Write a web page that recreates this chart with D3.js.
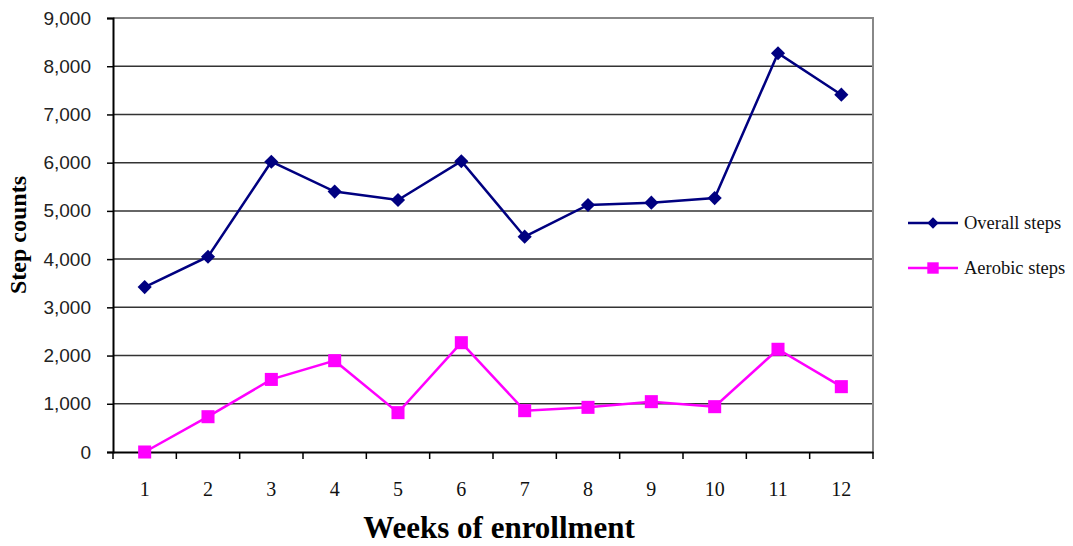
<!DOCTYPE html>
<html>
<head>
<meta charset="utf-8">
<script src="https://cdn.jsdelivr.net/npm/d3@7"></script>
<style>
  html, body { margin: 0; padding: 0; background: #fff; }
  svg { display: block; }
</style>
</head>
<body>
<svg id="chart" width="1073" height="546"></svg>
<script>
const weeks = ["1","2","3","4","5","6","7","8","9","10","11","12"];
const overallSteps = [3420, 4050, 6020, 5400, 5226, 6030, 4465, 5122, 5170, 5265, 8270, 7410];
const aerobicSteps = [0, 732, 1505, 1894, 816, 2267, 857, 926, 1044, 940, 2130, 1355];
const yTicks = [0, 1000, 2000, 3000, 4000, 5000, 6000, 7000, 8000, 9000];
const seriesNames = ["Overall steps", "Aerobic steps"];
const seriesColors = ["#000080", "#FF00FF"];

const svg = d3.select("#chart");
const L = 113, R = 873, T = 18, B = 452;

const x = d3.scaleBand().domain(weeks).range([L, R]);
const y = d3.scaleLinear().domain([0, 9000]).range([B, T]);

// gridlines
svg.append("g").selectAll("line").data(yTicks.filter(d => d > 0 && d < 9000)).join("line")
  .attr("x1", L).attr("x2", R)
  .attr("y1", d => y(d)).attr("y2", d => y(d))
  .attr("stroke", "#333").attr("stroke-width", 1.5);

// plot border (top & right gray)
svg.append("path")
  .attr("d", `M${L},${T}H${R}V${B}`)
  .attr("fill", "none").attr("stroke", "#888").attr("stroke-width", 2);

// y axis
const yAxis = d3.axisLeft(y).tickValues(yTicks).tickSize(6).tickPadding(16)
  .tickFormat(d3.format(","));
const gy = svg.append("g").attr("transform", `translate(${L},0)`).call(yAxis);
gy.select(".domain").attr("stroke", "#000").attr("stroke-width", 2);
gy.selectAll(".tick line").attr("stroke", "#000").attr("stroke-width", 1.5);
gy.selectAll(".tick text")
  .attr("font-family", "'Liberation Sans', Arial, sans-serif")
  .attr("font-size", 19).attr("fill", "#222");

// x axis
const xAxis = d3.axisBottom(x).tickSize(0).tickPadding(30);
const gx = svg.append("g").attr("transform", `translate(0,${B})`).call(xAxis);
gx.select(".domain").attr("stroke", "#000").attr("stroke-width", 2);
gx.selectAll(".tick text")
  .attr("font-family", "'Liberation Serif', 'Times New Roman', serif")
  .attr("font-size", 20).attr("fill", "#111");
// boundary ticks
const bounds = weeks.map(w => x(w)).concat([R]);
svg.append("g").selectAll("line").data(bounds).join("line")
  .attr("x1", d => d).attr("x2", d => d)
  .attr("y1", B).attr("y2", B + 7)
  .attr("stroke", "#000").attr("stroke-width", 1.5);

// axis titles
svg.append("text")
  .attr("transform", `translate(26,${(T + B) / 2}) rotate(-90)`)
  .attr("text-anchor", "middle")
  .attr("font-family", "'Liberation Serif', 'Times New Roman', serif")
  .attr("font-weight", "bold").attr("font-size", 24)
  .text("Step counts");

svg.append("text")
  .attr("x", (L + R) / 2 + 6).attr("y", 538)
  .attr("text-anchor", "middle")
  .attr("font-family", "'Liberation Serif', 'Times New Roman', serif")
  .attr("font-weight", "bold").attr("font-size", 31)
  .text("Weeks of enrollment");

// series
const cx = w => x(w) + x.bandwidth() / 2;
const line = d3.line().x((d, i) => cx(weeks[i])).y(d => y(d));
const allSeries = [overallSteps, aerobicSteps];
const rotations = [45, 0];
const sizes = [100, 170];

allSeries.forEach((vals, si) => {
  svg.append("path").datum(vals)
    .attr("d", line).attr("fill", "none")
    .attr("stroke", seriesColors[si]).attr("stroke-width", 2.5);
  svg.append("g").selectAll("path").data(vals).join("path")
    .attr("transform", (d, i) => `translate(${cx(weeks[i])},${y(d)}) rotate(${rotations[si]})`)
    .attr("d", d3.symbol().type(d3.symbolSquare).size(sizes[si]))
    .attr("fill", seriesColors[si]);
});

// legend
const legY = [223, 268];
seriesNames.forEach((name, si) => {
  const g = svg.append("g");
  g.append("line").attr("x1", 908).attr("x2", 958)
    .attr("y1", legY[si]).attr("y2", legY[si])
    .attr("stroke", seriesColors[si]).attr("stroke-width", 2.5);
  g.append("path")
    .attr("transform", `translate(933,${legY[si]}) rotate(${rotations[si]})`)
    .attr("d", d3.symbol().type(d3.symbolSquare).size(si === 0 ? 64 : 130))
    .attr("fill", seriesColors[si]);
  g.append("text").attr("x", 964).attr("y", legY[si] + 6)
    .attr("font-family", "'Liberation Serif', 'Times New Roman', serif")
    .attr("font-size", 18.5).attr("fill", "#111")
    .text(name);
});
</script>
</body>
</html>
